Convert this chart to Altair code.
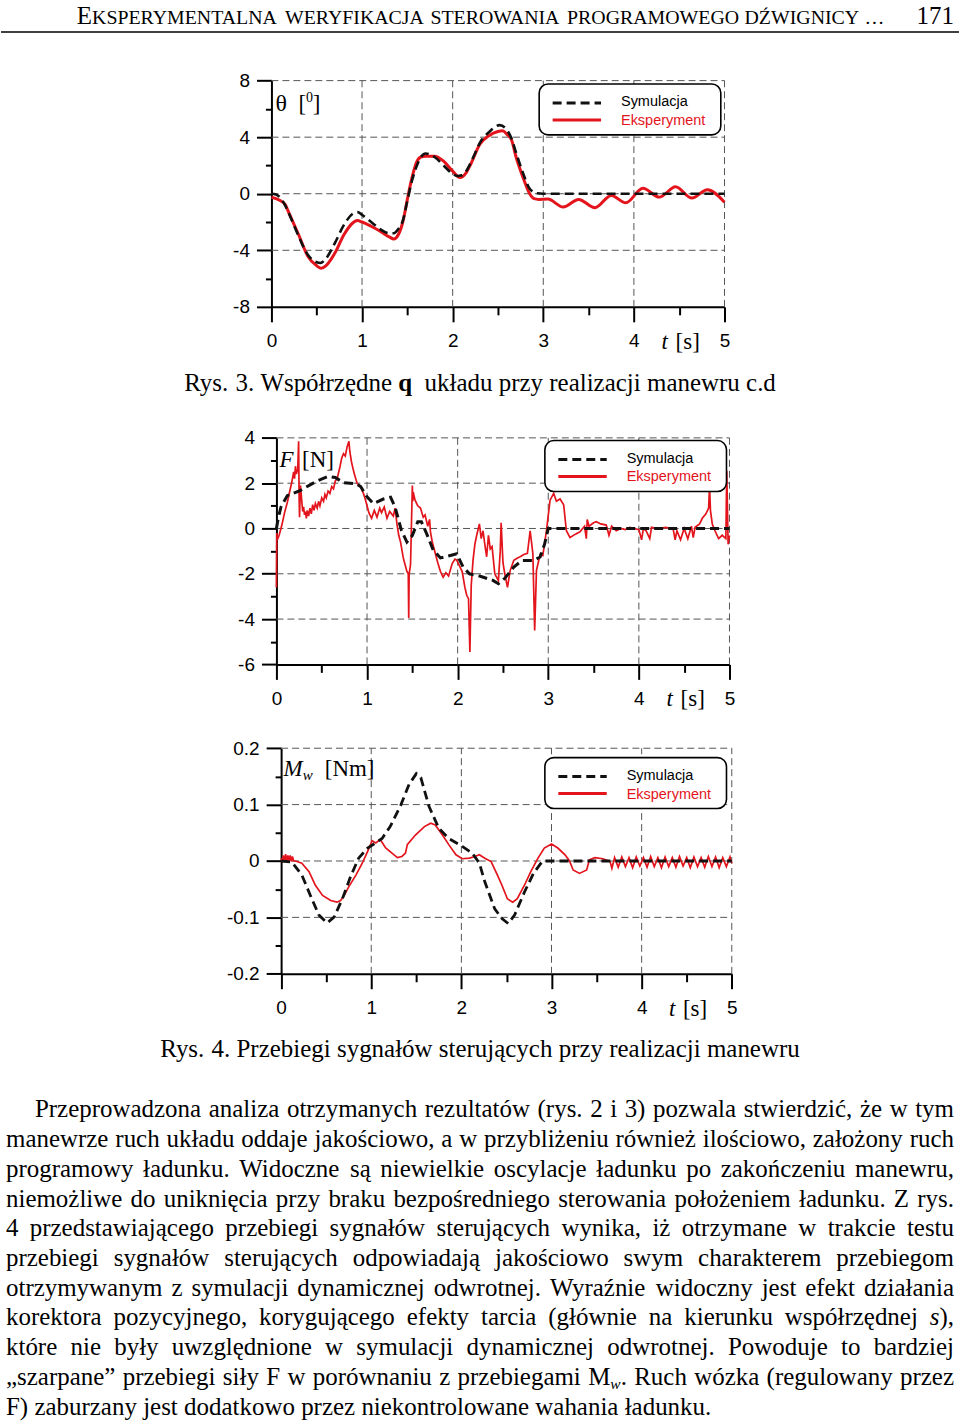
import re
import altair as alt
import pandas as pd

# ============================ DATA ============================
# Rys. 3 - theta [deg]
theta_sim_t = [0, 0.05, 0.1, 0.15, 0.2, 0.3, 0.4, 0.5, 0.54, 0.6, 0.7, 0.8, 0.9, 0.95, 1.0, 1.1, 1.2, 1.3, 1.35, 1.4,
               1.45, 1.5, 1.55, 1.6, 1.65, 1.7, 1.8, 1.9, 2.0, 2.05, 2.1, 2.15, 2.2, 2.25, 2.3, 2.4, 2.52, 2.6, 2.65, 2.7,
               2.78, 2.85, 2.93, 3.0, 5.0]
theta_sim = [0, -0.05, -0.3, -0.8, -1.5, -3.0, -4.3, -4.85, -4.9, -4.6, -3.5, -2.2, -1.4, -1.3, -1.5, -2.0, -2.5, -2.8, -2.8, -2.5,
             -1.9, -0.5, 0.9, 1.9, 2.6, 2.85, 2.6, 2.0, 1.4, 1.25, 1.3, 1.6, 2.2, 2.9, 3.6, 4.35, 4.85, 4.5, 3.9, 2.9,
             1.4, 0.35, 0.03, 0.0, 0.0]
theta_exp_t = [0, 0.1, 0.15, 0.2, 0.3, 0.4, 0.5, 0.55, 0.6, 0.7, 0.8, 0.9, 0.95, 1.0, 1.1, 1.2, 1.3, 1.35, 1.4, 1.45,
               1.5, 1.55, 1.6, 1.65, 1.7, 1.8, 1.9, 2.0, 2.08, 2.15, 2.2, 2.3, 2.4, 2.5, 2.55, 2.6, 2.65, 2.7, 2.78, 2.85,
               2.9, 2.95, 3.05, 3.22, 3.39, 3.57, 3.75, 3.91, 4.1, 4.28, 4.46, 4.64, 4.81, 5.0]
theta_exp = [-0.24, -0.5, -0.75, -1.46, -2.9, -4.4, -5.1, -5.27, -5.1, -4.2, -2.9, -2.05, -1.9, -2.0, -2.3, -2.65, -3.05, -3.2, -2.9, -2.0,
             -0.4, 1.1, 2.2, 2.6, 2.65, 2.65, 2.3, 1.6, 1.15, 1.5, 2.1, 3.5, 4.1, 4.4, 4.45, 4.2, 3.8, 2.6, 1.1, 0.0,
             -0.35, -0.4, -0.38, -0.94, -0.4, -0.99, -0.12, -0.64, 0.38, -0.24, 0.49, -0.31, 0.28, -0.6]

# Rys. 4a - F [N]
force_sim_t = [0, 0.02, 0.05, 0.12, 0.26, 0.45, 0.57, 0.65, 0.74, 0.88, 0.93, 0.99, 1.07, 1.18, 1.26, 1.31, 1.38, 1.44, 1.5, 1.56,
               1.6, 1.66, 1.73, 1.81, 1.92, 1.99, 2.06, 2.13, 2.25, 2.39, 2.45, 2.52, 2.62, 2.71, 2.84, 2.91, 2.96, 3.0, 5.0]
force_sim = [0, 0.45, 0.95, 1.45, 1.67, 2.1, 2.3, 2.25, 2.02, 1.98, 1.85, 1.45, 1.1, 1.3, 1.38, 0.94, -0.09, -0.6, -0.31, 0.3,
             0.3, -0.25, -0.95, -1.3, -1.19, -1.12, -1.7, -2.0, -2.11, -2.29, -2.44, -2.2, -1.7, -1.41, -1.41, -1.26, -0.68, 0.0, 0.0]
force_exp_t = [0.0, 0.004, 0.01, 0.03, 0.06, 0.09, 0.12, 0.15, 0.17, 0.19, 0.2, 0.21, 0.22, 0.235, 0.245, 0.25, 0.255, 0.265, 0.28, 0.29,
               0.3, 0.31, 0.32, 0.33, 0.34, 0.355, 0.37, 0.385, 0.4, 0.415, 0.43, 0.45, 0.465, 0.48, 0.5, 0.52, 0.535, 0.55, 0.57, 0.59,
               0.61, 0.63, 0.65, 0.67, 0.7, 0.72, 0.74, 0.76, 0.78, 0.8, 0.81, 0.83, 0.86, 0.89, 0.92, 0.94, 0.96, 0.98, 1.0, 1.02,
               1.05, 1.08, 1.11, 1.14, 1.16, 1.19, 1.22, 1.25, 1.29, 1.31, 1.33, 1.35, 1.37, 1.4, 1.42, 1.44, 1.455, 1.46, 1.465, 1.48,
               1.5, 1.505, 1.51, 1.53, 1.56, 1.59, 1.62, 1.64, 1.67, 1.69, 1.7, 1.72, 1.75, 1.78, 1.81, 1.84, 1.87, 1.9, 1.94, 1.97,
               1.99, 2.02, 2.05, 2.08, 2.1, 2.12, 2.135, 2.15, 2.17, 2.19, 2.21, 2.24, 2.26, 2.28, 2.3, 2.32, 2.34, 2.36, 2.38, 2.41,
               2.45, 2.47, 2.48, 2.5, 2.52, 2.55, 2.58, 2.62, 2.66, 2.69, 2.73, 2.77, 2.8, 2.83, 2.85, 2.87, 2.91, 2.94, 2.98, 3.02,
               3.06, 3.09, 3.13, 3.17, 3.2, 3.24, 3.3, 3.35, 3.4, 3.42, 3.43, 3.45, 3.5, 3.53, 3.58, 3.64, 3.67, 3.7, 3.75, 3.8,
               3.85, 3.9, 3.95, 4.0, 4.03, 4.05, 4.08, 4.12, 4.14, 4.2, 4.3, 4.38, 4.4, 4.42, 4.46, 4.5, 4.54, 4.58, 4.6, 4.62,
               4.67, 4.7, 4.74, 4.77, 4.78, 4.79, 4.81, 4.84, 4.88, 4.92, 4.96, 4.97, 4.985, 5.0]
force_exp = [-2.6, -0.2, -0.5, -0.3, 0.15, 0.7, 1.15, 1.7, 2.05, 2.5, 2.2, 2.75, 2.4, 2.6, 3.85, 1.5, 0.5, 1.9, 1.2, 0.75,
             0.95, 0.6, 0.75, 0.45, 0.8, 0.55, 0.9, 0.65, 1.05, 0.8, 1.1, 0.9, 1.2, 1.0, 1.35, 1.2, 1.5, 1.35, 1.65, 1.55,
             1.85, 1.75, 2.1, 2.2, 2.7, 3.1, 3.3, 3.2, 3.6, 3.85, 3.4, 2.9, 2.4, 2.0, 1.85, 1.75, 1.55, 1.3, 1.0, 0.7,
             0.45, 0.8, 0.5, 0.9, 0.7, 0.95, 0.45, 0.75, 0.55, 0.9, 0.2, -0.3, -0.6, -1.3, -1.6, -1.9, -2.0, -3.95, -2.0, -1.6,
             1.9, 1.2, 1.6, 1.25, 1.0, 0.9, 0.5, 0.6, 0.1, 0.4, -0.15, -0.6, -1.05, -1.5, -1.9, -2.15, -1.95, -2.1, -1.55, -1.35,
             -1.4, -1.65, -1.9, -2.6, -2.95, -3.1, -5.45, -2.5, -1.4, -0.7, -0.3, 0.2, -0.45, -0.1, -0.7, -1.25, -0.3, -0.9, -0.8, -2.0,
             -2.3, -1.0, 0.25, -1.5, -2.0, -2.6, -1.85, -1.4, -1.3, -1.25, -1.15, -1.1, -0.1, -1.1, -4.5, -1.85, -1.15, -1.2, -0.1, 1.25,
             1.55, 1.2, 1.3, 1.05, -0.1, -0.4, -0.25, -0.15, 0.1, -0.45, 0.4, 0.1, 0.25, 0.3, 0.2, 0.15, -0.3, 0.1, -0.1, 0.0,
             -0.05, 0.05, 0.0, -0.05, -0.5, 0.0, -0.1, -0.45, 0.05, 0.0, 0.05, -0.05, -0.5, -0.1, -0.5, 0.0, -0.45, 0.1, -0.4, 0.05,
             0.2, 0.45, 0.65, 0.9, 1.9, 0.8, 0.2, -0.1, -0.45, -0.3, -0.45, 2.55, -0.7, -0.3]

# Rys. 4b - Mw [Nm]
moment_sim_t = [0, 0.12, 0.23, 0.34, 0.42, 0.51, 0.59, 0.68, 0.77, 0.86, 0.96, 1.05, 1.12, 1.21, 1.33, 1.42, 1.5, 1.55, 1.64, 1.75,
                1.86, 2.01, 2.12, 2.2, 2.26, 2.37, 2.45, 2.52, 2.59, 2.7, 2.8, 2.9, 5.0]
moment_sim = [0, -0.002, -0.025, -0.067, -0.096, -0.11, -0.099, -0.067, -0.028, 0.005, 0.023, 0.032, 0.04, 0.061, 0.1, 0.136, 0.155, 0.148, 0.097, 0.058,
              0.04, 0.026, 0.014, -0.004, -0.037, -0.085, -0.102, -0.111, -0.096, -0.055, -0.022, 0.0, 0.0]
moment_exp_t = [0, 0.015, 0.025, 0.04, 0.05, 0.065, 0.075, 0.09, 0.1, 0.115, 0.125, 0.14, 0.16, 0.23, 0.31, 0.38, 0.46, 0.55, 0.62, 0.66,
                0.7, 0.75, 0.83, 0.9, 0.96, 1.01, 1.05, 1.1, 1.16, 1.23, 1.29, 1.34, 1.38, 1.4, 1.49, 1.59, 1.66, 1.71, 1.79, 1.86,
                1.94, 2.01, 2.09, 2.15, 2.2, 2.26, 2.33, 2.4, 2.45, 2.51, 2.57, 2.62, 2.7, 2.77, 2.85, 2.92, 3.0, 3.07, 3.15, 3.2,
                3.24, 3.31, 3.39, 3.42, 3.48, 3.57, 3.65, 3.67, 3.70, 3.74, 3.78, 3.82, 3.86, 3.90, 3.94, 3.98, 4.02, 4.06, 4.10, 4.14,
                4.18, 4.22, 4.26, 4.30, 4.34, 4.38, 4.42, 4.46, 4.50, 4.54, 4.58, 4.62, 4.66, 4.70, 4.74, 4.78, 4.82, 4.86, 4.90, 4.94,
                4.98, 5.00]
moment_exp = [0.005, -0.002, 0.01, 0.0, 0.012, -0.002, 0.01, 0.0, 0.01, -0.001, 0.008, 0.0, 0.0, -0.004, -0.019, -0.043, -0.061, -0.07, -0.073, -0.07,
              -0.061, -0.046, -0.025, -0.004, 0.017, 0.036, 0.032, 0.038, 0.023, 0.014, 0.006, 0.008, 0.014, 0.029, 0.046, 0.061, 0.067, 0.064, 0.046, 0.029,
              0.011, 0.004, 0.005, 0.008, 0.011, 0.005, -0.001, -0.025, -0.043, -0.067, -0.073, -0.067, -0.043, -0.019, 0.005, 0.023, 0.03, 0.023, 0.011, 0.0,
              -0.016, -0.022, -0.016, 0.002, 0.006, 0.004, -0.001, -0.013, 0.006, -0.011, 0.007, -0.010, 0.006, -0.012, 0.007, -0.009, 0.006, -0.011, 0.008, -0.010,
              0.006, -0.012, 0.007, -0.010, 0.006, -0.011, 0.008, -0.009, 0.006, -0.012, 0.007, -0.010, 0.006, -0.011, 0.008, -0.010, 0.007, -0.012, 0.006, -0.010,
              0.007, -0.004]

# axis ticks
X_TICKS = [0, 1, 2, 3, 4, 5]
X_MINOR = [0.5, 1.5, 2.5, 3.5, 4.5]
THETA_TICKS = [-8, -4, 0, 4, 8]
THETA_MINOR = [-6, -2, 2, 6]
FORCE_TICKS = [-6, -4, -2, 0, 2, 4]
FORCE_MINOR = [-5, -3, -1, 1, 3]
MOMENT_TICKS = [-0.2, -0.1, 0, 0.1, 0.2]
MOMENT_MINOR = [-0.15, -0.05, 0.05, 0.15]

# texts
HEADER_TEXT = "EKSPERYMENTALNA WERYFIKACJA STEROWANIA PROGRAMOWEGO DŹWIGNICY …"
PAGE_NO = "171"
SIM_LABEL = "Symulacja"
EXP_LABEL = "Eksperyment"
CAPTION_3 = "Rys. 3. Współrzędne {b:q}  układu przy realizacji manewru c.d"
CAPTION_4 = "Rys. 4. Przebiegi sygnałów sterujących przy realizacji manewru"
BODY = [
    "Przeprowadzona analiza otrzymanych rezultatów (rys. 2 i 3) pozwala stwierdzić, że w tym",
    "manewrze ruch układu oddaje jakościowo, a w przybliżeniu również ilościowo, założony ruch",
    "programowy ładunku. Widoczne są niewielkie oscylacje ładunku po zakończeniu manewru,",
    "niemożliwe do uniknięcia przy braku bezpośredniego sterowania położeniem ładunku. Z rys.",
    "4 przedstawiającego przebiegi sygnałów sterujących wynika, iż otrzymane w trakcie testu",
    "przebiegi sygnałów sterujących odpowiadają jakościowo swym charakterem przebiegom",
    "otrzymywanym z symulacji dynamicznej odwrotnej. Wyraźnie widoczny jest efekt działania",
    "korektora pozycyjnego, korygującego efekty tarcia (głównie na kierunku współrzędnej {i:s}),",
    "które nie były uwzględnione w symulacji dynamicznej odwrotnej. Powoduje to bardziej",
    "„szarpane” przebiegi siły F w porównaniu z przebiegami M{sub:w}. Ruch wózka (regulowany przez",
    "F) zaburzany jest dodatkowo przez niekontrolowane wahania ładunku.",
]

# ============================ STYLE ============================
SERIF = "Liberation Serif"
SANS = "Liberation Sans"
RED = "#e3141c"
BLACK = "#111111"
GRID = "#555555"
PAGE_W = 960
TEXT_SIZE = 25

# Times / Liberation Serif advance widths (1/1000 em) for text layout
_UP = dict(zip("ABCDEFGHIJKLMNOPQRSTUVWXYZ",
               [722, 667, 667, 722, 611, 556, 722, 722, 333, 389, 722, 611, 889, 722, 722, 556, 722, 667, 556, 611, 722, 722, 944, 722, 722, 611]))
_LO = dict(zip("abcdefghijklmnopqrstuvwxyz",
               [444, 500, 444, 500, 444, 333, 500, 500, 278, 278, 500, 278, 778, 500, 500, 500, 500, 333, 389, 278, 500, 500, 722, 500, 500, 444]))
REG = {**_UP, **_LO}
REG.update({c: 500 for c in "0123456789"})
REG.update({" ": 250, ",": 250, ".": 250, "(": 333, ")": 333, "[": 333, "]": 333, ":": 278, ";": 278, "-": 333,
            "„": 444, "”": 444, "…": 1000, "ą": 444, "ć": 444, "ę": 444, "ł": 278, "ń": 500, "ó": 500, "ś": 389,
            "ź": 444, "ż": 444, "Ź": 611, "Ż": 611, "Ś": 556, "Ł": 611, "Ó": 722})
ITA = dict(REG)
ITA.update({"w": 667, "M": 833, "F": 611, "s": 389, "t": 278})
BOLD = dict(REG)
BOLD.update({"q": 556})
TABLES = {"r": REG, "i": ITA, "sub": ITA, "b": BOLD}
SUB_F, SUB_DY = 0.62, 4.5


def run_width(text, style, size):
    tab = TABLES[style]
    return sum(tab.get(c, 500) for c in text) * size / 1000.0


def parse_word(word, size):
    runs = []
    for part in re.split(r"(\{[a-z]+:[^}]*\})", word):
        if not part:
            continue
        m = re.fullmatch(r"\{([a-z]+):([^}]*)\}", part)
        if m:
            st = m.group(1)
            runs.append((m.group(2), st, size * (SUB_F if st == "sub" else 1.0)))
        else:
            runs.append((part, "r", size))
    return runs


def place_words(words, x_left, x_right, y, gap=None):
    """words: list of list of runs (text, style, size); justified when gap is None."""
    widths = [sum(run_width(t, s, z) for t, s, z in wd) for wd in words]
    if gap is None:
        gap = (x_right - x_left - sum(widths)) / max(1, len(words) - 1)
    out, x = [], x_left
    for wd, w in zip(words, widths):
        xx = x
        for t, s, z in wd:
            out.append(dict(x=xx, y=y + (SUB_DY if s == "sub" else 0), text=t, style=s, size=z))
            xx += run_width(t, s, z)
        x += w + gap
    return out


STYLE_PROPS = {"r": ("normal", "normal"), "i": ("italic", "normal"), "sub": ("italic", "normal"), "b": ("normal", "bold")}


def text_layers(rows, font=SERIF):
    df = pd.DataFrame(rows)
    layers = []
    for st, sub in df.groupby("style"):
        fs, fw = STYLE_PROPS[st]
        layers.append(
            alt.Chart(sub).mark_text(align="left", baseline="alphabetic", font=font, fontStyle=fs, fontWeight=fw, color="black")
            .encode(x=alt.X("x:Q", scale=None), y=alt.Y("y:Q", scale=None), text="text:N", size=alt.Size("size:Q", scale=None))
        )
    return layers


ONE = pd.DataFrame({"k": [0]})


def vtext(s, x, y, size, font=SERIF, style="normal", weight="normal", color="black", baseline="alphabetic"):
    return alt.Chart(ONE).mark_text(align="left", baseline=baseline, font=font, fontSize=size, fontStyle=style,
                                    fontWeight=weight, color=color).encode(x=alt.value(x), y=alt.value(y), text=alt.value(s))


def panel(top, height, x0, x1, y_bot, y_top, ydom, yticks, yminor, sim_t, sim_v, exp_t, exp_v,
          exp_w, sim_w, interp, leg_l, leg_t, names):
    yb, yt = y_bot - top, y_top - top
    xs = alt.Scale(domain=[0, 5], range=[x0, x1], nice=False, zero=False)
    ys = alt.Scale(domain=ydom, range=[yb, yt], nice=False, zero=False)
    xoff, yoff = -x0, yb - height
    common = dict(labelFont=SANS, labelFontSize=19, labelColor="black", tickColor="black", domainColor="black",
                  tickWidth=2, domainWidth=2, grid=False, title=None, labelFlush=False, labelOverlap=False,
                  labelBound=False, labelExpr="toString(datum.value)")
    x_axis = alt.Axis(values=X_TICKS, orient="bottom", offset=yoff, tickSize=15, labelPadding=10, **common)
    y_axis = alt.Axis(values=yticks, orient="left", offset=xoff, tickSize=15, labelPadding=7, **common)
    minor = dict(labels=False, domain=False, tickColor="black", tickWidth=2, grid=False, title=None)
    x_minor = alt.Axis(values=X_MINOR, orient="bottom", offset=yoff, tickSize=8, **minor)
    y_minor = alt.Axis(values=yminor, orient="left", offset=xoff, tickSize=6, **minor)

    sim_df = pd.DataFrame({"t": sim_t, "v": sim_v})
    exp_df = pd.DataFrame({"t": exp_t, "v": exp_v})
    vg = pd.DataFrame({"gx": X_TICKS[1:], "ya": ydom[0], "yb": ydom[1]})
    hg = pd.DataFrame({"gy": yticks[1:], "xa": 0, "xb": 5})
    grid_v = alt.Chart(vg).mark_rule(color=GRID, strokeWidth=1, strokeDash=[7, 4]).encode(
        x=alt.X("gx:Q", scale=xs, axis=None), y=alt.Y("ya:Q", scale=ys, axis=None), y2="yb:Q")
    grid_h = alt.Chart(hg).mark_rule(color=GRID, strokeWidth=1, strokeDash=[7, 4]).encode(
        y=alt.Y("gy:Q", scale=ys, axis=None), x=alt.X("xa:Q", scale=xs, axis=None), x2="xb:Q")
    exp_line = alt.Chart(exp_df).mark_line(color=RED, strokeWidth=exp_w, interpolate=interp).encode(
        x=alt.X("t:Q", scale=xs, axis=x_axis), y=alt.Y("v:Q", scale=ys, axis=y_axis))
    sim_line = alt.Chart(sim_df).mark_line(color=BLACK, strokeWidth=sim_w, strokeDash=[9, 5], interpolate=interp).encode(
        x=alt.X("t:Q", scale=xs, axis=None), y=alt.Y("v:Q", scale=ys, axis=None))
    minor_ticks = alt.Chart(sim_df).mark_point(opacity=0).encode(
        x=alt.X("t:Q", scale=xs, axis=x_minor), y=alt.Y("v:Q", scale=ys, axis=y_minor))

    lt = leg_t - top
    box = alt.Chart(ONE).mark_rect(cornerRadius=9, fill="white", stroke="black", strokeWidth=1.6).encode(
        x=alt.value(leg_l), x2=alt.value(leg_l + 182), y=alt.value(lt), y2=alt.value(lt + 51))
    sym1 = alt.Chart(ONE).mark_rule(color=BLACK, strokeWidth=3, strokeDash=[9, 5]).encode(
        x=alt.value(leg_l + 13.5), x2=alt.value(leg_l + 62), y=alt.value(lt + 19))
    sym2 = alt.Chart(ONE).mark_rule(color=RED, strokeWidth=3).encode(
        x=alt.value(leg_l + 13.5), x2=alt.value(leg_l + 62), y=alt.value(lt + 36))
    lab1 = vtext(SIM_LABEL, leg_l + 82, lt + 18.5, 14.5, font=SANS, baseline="middle")
    lab2 = vtext(EXP_LABEL, leg_l + 82, lt + 37, 14.5, font=SANS, color=RED, baseline="middle")

    ybase = yb + 42
    extra = [vtext("t", x1 - 63, ybase, 23, style="italic"), vtext("[s]", x1 - 49, ybase, 23)]
    for s, st, z, px, py in names:
        extra.append(vtext(s, px, py - top, z, style="italic" if st == "i" else "normal"))

    return alt.layer(grid_v, grid_h, exp_line, sim_line, minor_ticks, box, sym1, sym2, lab1, lab2, *extra).resolve_axis(
        x="independent", y="independent").properties(width=PAGE_W, height=height)


# ============================ ROWS ============================
# header row (0-40): small caps, only the first initial at full size
SMALL = 19.9
hdr_words = []
for k, w in enumerate(HEADER_TEXT.split(" ")):
    if k == 0:
        hdr_words.append([(w[0], "r", 25), (w[1:], "r", SMALL)])
    else:
        hdr_words.append([(w, "r", SMALL)])
hdr_rows = place_words(hdr_words, 76, 0, 23, gap=0.27 * SMALL)
hdr_rows.append(dict(x=955 - run_width(PAGE_NO, "r", 25), y=23, text=PAGE_NO, style="r", size=25))
hdr_rule = alt.Chart(ONE).mark_rule(color="black", strokeWidth=1.5).encode(
    x=alt.value(0), x2=alt.value(PAGE_W), y=alt.value(30.5))
row_header = alt.layer(*text_layers(hdr_rows), hdr_rule).properties(width=PAGE_W, height=40)

# panel 1 (40-360)
row_p1 = panel(40, 320, 271, 725, 306, 79.3, [-8, 8], THETA_TICKS, THETA_MINOR,
               theta_sim_t, theta_sim, theta_exp_t, theta_exp, 3, 2.6, "monotone", 539.3, 82.7,
               [("θ", "r", 24, 275, 109.3), ("[", "r", 23, 298, 109.3), ("0", "r", 14, 305.7, 101), ("]", "r", 23, 312.5, 109.3)])


def centered_line(text, cx, y, size):
    words = [parse_word(w, size) for w in text.split(" ")]
    widths = [sum(run_width(t, s, z) for t, s, z in wd) for wd in words]
    total = sum(widths) + 0.25 * size * (len(words) - 1)
    return place_words(words, cx - total / 2, 0, y, gap=0.25 * size)


# caption 1 (360-420)
row_cap1 = alt.layer(*text_layers(centered_line(CAPTION_3, 480, 30.5, TEXT_SIZE))).properties(width=PAGE_W, height=60)

# panel 2 (420-720)
row_p2 = panel(420, 300, 276, 730, 664.3, 437.3, [-6, 4], FORCE_TICKS, FORCE_MINOR,
               force_sim_t, force_sim, force_exp_t, force_exp, 1.7, 3, "linear", 545, 440,
               [("F", "i", 23, 279, 466.5), ("[N]", "r", 23, 301.7, 466.5)])

# panel 3 (720-1030)
row_p3 = panel(720, 310, 280.7, 732.3, 974.3, 748.3, [-0.2, 0.2], MOMENT_TICKS, MOMENT_MINOR,
               moment_sim_t, moment_sim, moment_exp_t, moment_exp, 1.7, 2.8, "linear", 545, 757.7,
               [("M", "i", 23, 283, 776), ("w", "i", 15, 302.5, 780), ("[Nm]", "r", 23, 324.5, 776)])

# caption 2 + body (1030-1424)
bottom_rows = centered_line(CAPTION_4, 480, 27.5, TEXT_SIZE)
for i, line in enumerate(BODY):
    y = 88.3 + i * 29.77
    words = [parse_word(w, TEXT_SIZE) for w in line.split()]
    left = 34 if i == 0 else 5
    if i == len(BODY) - 1:
        bottom_rows += place_words(words, left, 0, y, gap=0.25 * TEXT_SIZE)
    else:
        bottom_rows += place_words(words, left, 955, y)
row_body = alt.layer(*text_layers(bottom_rows)).properties(width=PAGE_W, height=394)

chart = alt.vconcat(row_header, row_p1, row_cap1, row_p2, row_p3, row_body, spacing=0, bounds="flush").properties(
    padding=0, background="white").configure_view(stroke=None)

chart.save("out.html", embed_options={"renderer": "svg", "actions": False})
